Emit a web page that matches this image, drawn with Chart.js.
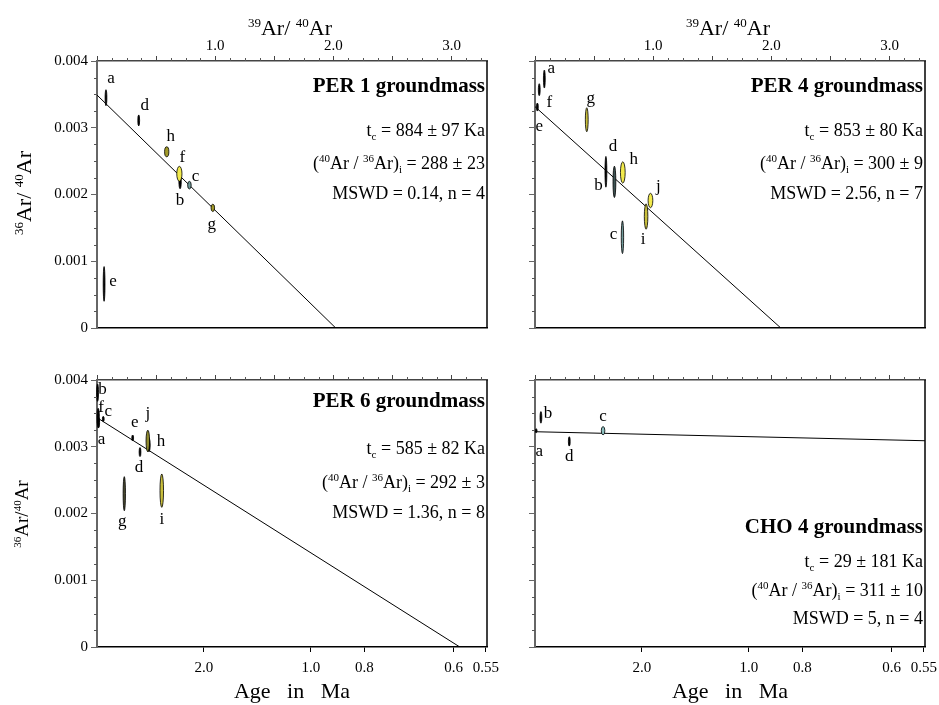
<!DOCTYPE html>
<html>
<head>
<meta charset="utf-8">
<script src="https://cdn.jsdelivr.net/npm/chart.js@4.4.1/dist/chart.umd.min.js"></script>
<style>
  body { margin: 0; background: #fff; }
  #wrap { position: relative; width: 939px; height: 705px; overflow: hidden; }
  #wrap canvas { position: absolute; }
</style>
</head>
<body>
<div id="wrap">
  <canvas id="per1" width="520" height="352" style="left:0;top:0"></canvas>
  <canvas id="per4" width="459" height="352" style="left:480px;top:0"></canvas>
  <canvas id="per6" width="520" height="353" style="left:0;top:352px"></canvas>
  <canvas id="cho4" width="459" height="353" style="left:480px;top:352px"></canvas>
</div>
<script>
// Inverse isochrons: x = 39Ar/40Ar, y = 36Ar/40Ar, sx/sy = half-widths of each error ellipse
const per1Steps = ['a', 'b', 'c', 'd', 'e', 'f', 'g', 'h'];
const per1X  = [0.076, 0.703, 0.782, 0.353, 0.06, 0.697, 0.98, 0.59];
const per1Y  = [0.00345, 0.00219, 0.00214, 0.00311, 0.00066, 0.00231, 0.00180, 0.00264];
const per1Sx = [0.006, 0.01, 0.015, 0.006, 0.006, 0.022, 0.015, 0.018];
const per1Sy = [0.00012, 0.000105, 0.000057, 0.000082, 0.00026, 0.000112, 0.000055, 0.000075];
const per1Line = [[0, 0.00349], [2.02, 0]];
const per1Stats = ['PER 1 groundmass', '884', '97', '288', '23', '0.14', '4'];

const per4Steps = ['a', 'b', 'c', 'd', 'e', 'f', 'g', 'h', 'i', 'j'];
const per4X  = [0.079, 0.672, 0.74, 0.60, 0.02, 0.036, 0.438, 0.743, 0.94, 0.977];
const per4Y  = [0.00373, 0.00219, 0.00136, 0.00234, 0.00331, 0.00357, 0.00312, 0.00233, 0.00167, 0.00191];
const per4Sx = [0.006, 0.012, 0.01, 0.008, 0.006, 0.006, 0.012, 0.02, 0.015, 0.02];
const per4Sy = [0.000135, 0.000235, 0.000245, 0.00023, 0.00006, 0.00009, 0.00018, 0.00016, 0.00019, 0.000108];
const per4Line = [[0, 0.003316], [2.08, 0]];
const per4Stats = ['PER 4 groundmass', '853', '80', '300', '9', '2.56', '7'];

const per6Steps = ['a', 'b', 'c', 'd', 'e', 'f', 'g', 'h', 'i', 'j'];
const per6X  = [0.012, 0.005, 0.053, 0.364, 0.302, 0.01, 0.231, 0.44, 0.548, 0.43];
const per6Y  = [0.00336, 0.00381, 0.003416, 0.00292, 0.003131, 0.00345, 0.002297, 0.003026, 0.002342, 0.003086];
const per6Sx = [0.01, 0.008, 0.005, 0.006, 0.005, 0.01, 0.01, 0.01, 0.015, 0.015];
const per6Sy = [0.00008, 0.00013, 0.00004, 0.000067, 0.000045, 0.000125, 0.000255, 0.0001, 0.00025, 0.000163];
const per6Line = [[0, 0.003436], [3.07, 0]];
const per6Stats = ['PER 6 groundmass', '585', '82', '292', '3', '1.36', '8'];

const cho4Steps = ['a', 'b', 'c', 'd'];
const cho4X  = [0.01, 0.05, 0.576, 0.29];
const cho4Y  = [0.00324, 0.00344, 0.00324, 0.00308];
const cho4Sx = [0.006, 0.006, 0.015, 0.006];
const cho4Sy = [0.00003, 0.000087, 0.000062, 0.00007];
const cho4Line = [[0, 0.003225], [3.3, 0.00309]];
const cho4Stats = ['CHO 4 groundmass', '29', '181', '311', '10', '5', '4'];

// Age scale under the bottom row: 39Ar/40Ar = AGE_K / age
const AGE_K = 1.81;
const ageTicks  = [2.0, 1.0, 0.8, 0.6, 0.55];
const ageLabels = ['2.0', '1.0', '0.8', '0.6', '0.55'];

const FONT = "'Liberation Serif', 'Times New Roman', serif";
Chart.defaults.font.family = FONT;
Chart.defaults.color = '#000';
Chart.defaults.animation = false;

const YELLOW = '#f2ea4c', OLIVE = '#a29a2a', OCHRE = '#c9bf3c', TEAL = '#6f9a9a', SLATE = '#3e5454';

// text with super/subscripts; parts = [[text, ''|'sup'|'sub'], ...]
function drawRich(ctx, parts, x, y, size, weight, align) {
  const small = Math.round(size * 0.6);
  const fontFor = k => `${weight || 'normal'} ${k ? small : size}px ${FONT}`;
  let w = 0;
  parts.forEach(([t, k]) => { ctx.font = fontFor(k); w += ctx.measureText(t).width; });
  let cx = align === 'right' ? x - w : align === 'center' ? x - w / 2 : x;
  const base = y + size * 0.33;
  ctx.save();
  ctx.fillStyle = '#000';
  ctx.textAlign = 'left';
  ctx.textBaseline = 'alphabetic';
  parts.forEach(([t, k]) => {
    ctx.font = fontFor(k);
    const dy = k === 'sup' ? -size * 0.38 : k === 'sub' ? size * 0.22 : 0;
    ctx.fillText(t, cx, base + dy);
    cx += ctx.measureText(t).width;
  });
  ctx.restore();
}

function isochron(id, p) {
  const pts = p.x.map((v, i) => ({ x: v, y: p.y[i], sx: p.sx[i], sy: p.sy[i] }));
  const bottomRow = p.bottomRow;

  const plugin = {
    id: 'isochron',
    afterDatasetsDraw(chart) {
      const { ctx, scales: { x, y } } = chart;
      const data = chart.data.datasets[1].data;
      ctx.save();
      data.forEach((d, i) => {
        const cx = x.getPixelForValue(d.x), cy = y.getPixelForValue(d.y);
        const rx = Math.max(0.9, Math.abs(x.getPixelForValue(d.x + d.sx) - cx));
        const ry = Math.abs(y.getPixelForValue(d.y + d.sy) - cy);
        ctx.beginPath();
        ctx.ellipse(cx, cy, rx, ry, 0, 0, Math.PI * 2);
        ctx.fillStyle = p.fill[i];
        ctx.fill();
        ctx.lineWidth = 0.8;
        ctx.strokeStyle = '#000';
        ctx.stroke();
        // step letter
        ctx.font = `17px ${FONT}`;
        ctx.fillStyle = '#000';
        ctx.textAlign = 'center';
        ctx.textBaseline = 'middle';
        ctx.fillText(p.steps[i], cx + p.labelPos[i][0], cy + p.labelPos[i][1]);
      });
      ctx.restore();
    },
    afterDraw(chart) {
      const { ctx, chartArea: a, scales: { xt, y } } = chart;
      ctx.save();
      // minor ticks
      ctx.strokeStyle = '#555';
      ctx.lineWidth = 1;
      ctx.beginPath();
      for (let k = 1; k <= 26; k++) {
        if (k % 4 === 0) continue;
        const px = Math.round(xt.getPixelForValue(k * 0.125)) + 0.5;
        ctx.moveTo(px, a.top); ctx.lineTo(px, a.top - 3);
      }
      for (let k = 1; k < 16; k++) {
        if (k % 4 === 0) continue;
        const py = Math.round(y.getPixelForValue(k * 0.00025)) + 0.5;
        ctx.moveTo(a.left, py); ctx.lineTo(a.left - 3, py);
      }
      ctx.stroke();
      // right frame
      ctx.strokeStyle = '#000';
      ctx.lineWidth = 1.5;
      ctx.beginPath();
      ctx.moveTo(a.right, a.top); ctx.lineTo(a.right, a.bottom);
      ctx.stroke();

      // axis titles
      if (p.yTitle) {
        ctx.save();
        ctx.translate(p.yTitle[0], p.yTitle[1]);
        ctx.rotate(-Math.PI / 2);
        drawRich(ctx, p.yTitle[3], 0, 0, p.yTitle[2], 'normal', 'center');
        ctx.restore();
      }
      if (p.xTitle) {
        drawRich(ctx, [['39', 'sup'], ['Ar/ ', ''], ['40', 'sup'], ['Ar', '']],
          p.xTitle[0], p.xTitle[1], 22, 'normal', 'center');
      }

      // fit results
      const s = p.stats, R = a.right - 2, rows = p.rows;
      drawRich(ctx, [[s[0], '']], R, a.top + rows[0], 21, 'bold', 'right');
      drawRich(ctx, [['t', ''], ['c', 'sub'], [' = ' + s[1] + ' \u00b1 ' + s[2] + ' Ka', '']],
        R, a.top + rows[1], 18, 'normal', 'right');
      drawRich(ctx, [['(', ''], ['40', 'sup'], ['Ar / ', ''], ['36', 'sup'], ['Ar)', ''], ['i', 'sub'],
        [' = ' + s[3] + ' \u00b1 ' + s[4], '']], R, a.top + rows[2], 18, 'normal', 'right');
      drawRich(ctx, [['MSWD = ' + s[5] + ', n = ' + s[6], '']], R, a.top + rows[3], 18, 'normal', 'right');
      ctx.restore();
    }
  };

  return new Chart(document.getElementById(id), {
    type: 'scatter',
    data: {
      datasets: [
        {
          type: 'line',
          data: p.line.map(([x, y]) => ({ x, y })),
          borderColor: '#000',
          borderWidth: 1,
          pointRadius: 0,
          fill: false
        },
        { data: pts, pointRadius: 0, pointHoverRadius: 0 }
      ]
    },
    options: {
      responsive: false,
      events: [],
      layout: { padding: { top: 0, left: 0, bottom: 0, right: p.padRight } },
      plugins: { legend: { display: false }, tooltip: { enabled: false } },
      scales: {
        x: {
          type: 'linear',
          position: 'bottom',
          min: 0,
          max: 3.3,
          afterFit: s => { s.height = p.bottomH; s.paddingLeft = 0; s.paddingRight = 0; },
          afterBuildTicks: s => { if (bottomRow) s.ticks = ageTicks.map(t => ({ value: AGE_K / t })); },
          ticks: {
            display: bottomRow,
            autoSkip: false,
            maxRotation: 0,
            padding: 7,
            font: { size: 15 },
            color: '#000',
            callback: (v, i) => ageLabels[i]
          },
          grid: { display: bottomRow, drawOnChartArea: false, tickLength: 5, color: '#000' },
          border: { display: true, color: '#000', width: 1.5 },
          title: { display: bottomRow, text: 'Age   in   Ma', font: { size: 22 }, color: '#000', padding: 0 }
        },
        xt: {
          type: 'linear',
          position: 'top',
          min: 0,
          max: 3.3,
          afterFit: s => { s.height = p.topH; s.paddingLeft = 0; s.paddingRight = 0; },
          ticks: {
            stepSize: 0.5,
            includeBounds: false,
            autoSkip: false,
            maxRotation: 0,
            padding: 1,
            font: { size: 15 },
            color: '#000',
            callback: v => (!bottomRow && v >= 1 && Math.abs(v - Math.round(v)) < 1e-9) ? v.toFixed(1) : ''
          },
          grid: { drawOnChartArea: false, tickLength: 5, color: '#444' },
          border: { color: '#444', width: 1.5 }
        },
        y: {
          type: 'linear',
          position: 'left',
          min: 0,
          max: 0.004,
          afterFit: s => { s.width = p.leftW; s.paddingTop = 0; s.paddingBottom = 0; },
          ticks: {
            stepSize: 0.001,
            padding: 3,
            font: { size: 15 },
            color: '#000',
            callback: v => p.yLabels ? (v === 0 ? '0' : v.toFixed(3)) : ''
          },
          grid: { drawOnChartArea: false, tickLength: 6, color: '#666' },
          border: { color: '#666', width: 2 }
        }
      }
    },
    plugins: [plugin]
  });
}

const Y_TITLE_TOP = [['36', 'sup'], ['Ar/ ', ''], ['40', 'sup'], ['Ar', '']];
const Y_TITLE_BOTTOM = [['36', 'sup'], ['Ar/', ''], ['40', 'sup'], ['Ar', '']];

isochron('per1', {
  steps: per1Steps, x: per1X, y: per1Y, sx: per1Sx, sy: per1Sy, line: per1Line, stats: per1Stats,
  fill: ['#000', '#000', TEAL, '#000', '#000', YELLOW, OLIVE, OLIVE],
  labelPos: [[5, -19], [0, 19], [6, -9], [6, -15], [9, -2], [3, -16], [-1, 17], [4, -15]],
  rows: [24, 69, 102, 132],
  bottomRow: false, yLabels: true,
  leftW: 97, padRight: 33, topH: 61, bottomH: 24,
  yTitle: [24, 193, 22, Y_TITLE_TOP], xTitle: [290, 28]
});

isochron('per4', {
  steps: per4Steps, x: per4X, y: per4Y, sx: per4Sx, sy: per4Sy, line: per4Line, stats: per4Stats,
  fill: ['#000', SLATE, TEAL, '#000', '#000', '#000', OCHRE, YELLOW, OCHRE, YELLOW],
  labelPos: [[7, -10], [-16, 4], [-9, -3], [7, -25], [2, 19], [10, 13], [4, -21], [11, -13], [-3, 23], [8, -14]],
  rows: [24, 69, 102, 132],
  bottomRow: false, yLabels: false,
  leftW: 55, padRight: 14, topH: 61, bottomH: 24,
  xTitle: [248, 28]
});

isochron('per6', {
  steps: per6Steps, x: per6X, y: per6Y, sx: per6Sx, sy: per6Sy, line: per6Line, stats: per6Stats,
  fill: ['#000', '#000', '#000', '#000', '#000', '#000', '#4a4a30', '#000', OCHRE, '#8f8a2e'],
  labelPos: [[3, 17], [5, -3], [5, -7], [-1, 15], [2, -15], [3, -9], [-2, 28], [12, -3], [0, 29], [0, -27]],
  rows: [20, 68, 102, 132],
  bottomRow: true, yLabels: true,
  leftW: 97, padRight: 33, topH: 28, bottomH: 58,
  yTitle: [22, 162, 19, Y_TITLE_BOTTOM]
});

isochron('cho4', {
  steps: cho4Steps, x: cho4X, y: cho4Y, sx: cho4Sx, sy: cho4Sy, line: cho4Line, stats: cho4Stats,
  fill: ['#000', '#000', '#8cc0c0', '#000'],
  labelPos: [[3, 21], [7, -4], [0, -14], [0, 15]],
  rows: [146, 181, 210, 238],
  bottomRow: true, yLabels: false,
  leftW: 55, padRight: 14, topH: 28, bottomH: 58
});
</script>
</body>
</html>
